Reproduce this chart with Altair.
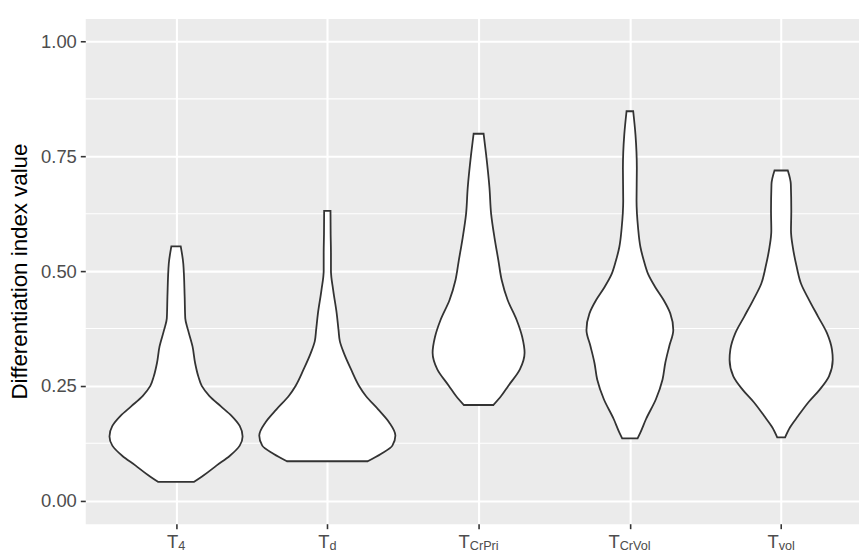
import altair as alt
import pandas as pd

# ---- data -------------------------------------------------------------------
categories = ["T4", "Td", "TCrPri", "TCrVol", "Tvol"]
sub_labels = ["4", "d", "CrPri", "CrVol", "vol"]

# violin outlines: y level and half-width (in category-axis units)
t4_y = [0.041, 0.055, 0.077, 0.098, 0.120, 0.140, 0.163, 0.185, 0.206, 0.228,
        0.250, 0.271, 0.300, 0.336, 0.372, 0.397, 0.444, 0.516, 0.554]
t4_hw = [0.117, 0.181, 0.269, 0.356, 0.421, 0.440, 0.421, 0.367, 0.295, 0.221,
         0.170, 0.147, 0.126, 0.109, 0.079, 0.061, 0.057, 0.048, 0.031]

td_y = [0.086, 0.102, 0.120, 0.142, 0.171, 0.199, 0.228, 0.250, 0.286, 0.322,
        0.347, 0.372, 0.408, 0.458, 0.501, 0.540, 0.580, 0.631]
td_hw = [0.267, 0.354, 0.430, 0.450, 0.408, 0.336, 0.255, 0.210, 0.157, 0.109,
         0.083, 0.074, 0.062, 0.039, 0.024, 0.024, 0.022, 0.021]

crpri_y = [0.2085, 0.228, 0.250, 0.286, 0.322, 0.357, 0.394, 0.437, 0.480, 0.523,
           0.573, 0.624, 0.681, 0.753, 0.799]
crpri_hw = [0.098, 0.149, 0.196, 0.273, 0.304, 0.288, 0.251, 0.192, 0.153, 0.131,
            0.105, 0.083, 0.072, 0.050, 0.033]

crvol_y = [0.136, 0.149, 0.178, 0.221, 0.264, 0.300, 0.336, 0.372, 0.408, 0.437,
           0.465, 0.494, 0.523, 0.552, 0.595, 0.653, 0.724, 0.797, 0.848]
crvol_hw = [0.051, 0.070, 0.107, 0.172, 0.216, 0.234, 0.260, 0.287, 0.267, 0.223,
            0.168, 0.120, 0.092, 0.070, 0.054, 0.044, 0.046, 0.037, 0.022]

vol_y = [0.138, 0.160, 0.185, 0.214, 0.242, 0.271, 0.307, 0.329, 0.365, 0.401,
         0.437, 0.473, 0.509, 0.552, 0.588, 0.631, 0.689, 0.719]
vol_hw = [0.026, 0.059, 0.113, 0.179, 0.255, 0.316, 0.341, 0.336, 0.303, 0.244,
          0.185, 0.131, 0.103, 0.077, 0.065, 0.067, 0.064, 0.044]

y_ticks = [0.0, 0.25, 0.5, 0.75, 1.0]
y_minor = [0.125, 0.375, 0.625, 0.875]

# ---- layout ------------------------------------------------------------------
W, H = 781, 510
X_DOM = [0.4, 0.4 + W / 152.7]
Y_DOM = [-0.05, 1.05]
FONT = "Liberation Sans"
TICK_FS = 18.6
SUB_FS = 12.8
PPU = W / (X_DOM[1] - X_DOM[0])

profiles = [(t4_y, t4_hw), (td_y, td_hw), (crpri_y, crpri_hw),
            (crvol_y, crvol_hw), (vol_y, vol_hw)]
rows = []
for i, (cat, (ys, hws)) in enumerate(zip(categories, profiles)):
    for yv, hw in zip(ys, hws):
        rows.append({"cat": cat, "idx": i + 1, "y": yv, "hw": hw})
vdf = pd.DataFrame(rows)

# approximate Arial advance widths for label centring
AW = {"T": .611, "4": .556, "d": .556, "C": .722, "r": .333, "P": .667,
      "i": .222, "V": .667, "o": .556, "l": .222, "v": .5}
lab_rows = []
for i, s in enumerate(sub_labels):
    wT = AW["T"] * TICK_FS
    wS = sum(AW[c] for c in s) * SUB_FS
    lab_rows.append({"xs": i + 1 + (wT - wS) / 2 / PPU, "main": "T", "sub": s})
ldf = pd.DataFrame(lab_rows)

xscale = alt.Scale(domain=X_DOM, nice=False, zero=False)
yscale = alt.Scale(domain=Y_DOM, nice=False, zero=False)

minor = alt.Chart(pd.DataFrame({"v": y_minor})).mark_rule(
    color="white", strokeWidth=1.05
).encode(y=alt.Y("v:Q", scale=yscale))

violins = alt.Chart(vdf).transform_calculate(
    xl="datum.idx - datum.hw", xr="datum.idx + datum.hw"
).mark_area(
    orient="horizontal", interpolate="monotone", fill="white",
    stroke="#333333", strokeWidth=1.8
).encode(
    y=alt.Y("y:Q", scale=yscale,
            axis=alt.Axis(values=y_ticks, format=".2f", title="Differentiation index value",
                          grid=True, gridColor="white", gridWidth=2.1,
                          domain=False, tickColor="#333333", tickSize=5, tickWidth=1.6,
                          labelColor="#4D4D4D", labelFontSize=TICK_FS, labelFont=FONT,
                          labelPadding=4,
                          titleFont=FONT, titleFontSize=22.5, titleFontWeight="normal",
                          titleColor="black", titleAngle=270, titleX=-66, titleY=H / 2,
                          titleAlign="center", titleBaseline="middle")),
    x=alt.X("xl:Q", scale=xscale,
            axis=alt.Axis(values=[1, 2, 3, 4, 5], labels=False, title=None,
                          grid=True, gridColor="white", gridWidth=2.1,
                          domain=False, tickColor="#333333", tickSize=5, tickWidth=1.6)),
    x2="xr:Q",
    detail="cat:N",
)

main_lab = alt.Chart(ldf).mark_text(
    align="right", baseline="alphabetic", font=FONT, fontSize=TICK_FS, color="#4D4D4D"
).encode(x=alt.X("xs:Q", scale=xscale), y=alt.value(H + 24), text="main:N")

sub_lab = alt.Chart(ldf).mark_text(
    align="left", baseline="alphabetic", font=FONT, fontSize=SUB_FS, color="#4D4D4D"
).encode(x=alt.X("xs:Q", scale=xscale), y=alt.value(H + 27), text="sub:N")

chart = alt.layer(minor, violins, main_lab, sub_lab).properties(
    width=W, height=H,
    autosize=alt.AutoSizeParams(type="none"),
    padding={"left": 78, "top": 8, "right": 0, "bottom": 30},
).configure_view(fill="#EBEBEB", stroke="transparent")

chart.save("out.html", embed_options={"renderer": "svg", "actions": False})
